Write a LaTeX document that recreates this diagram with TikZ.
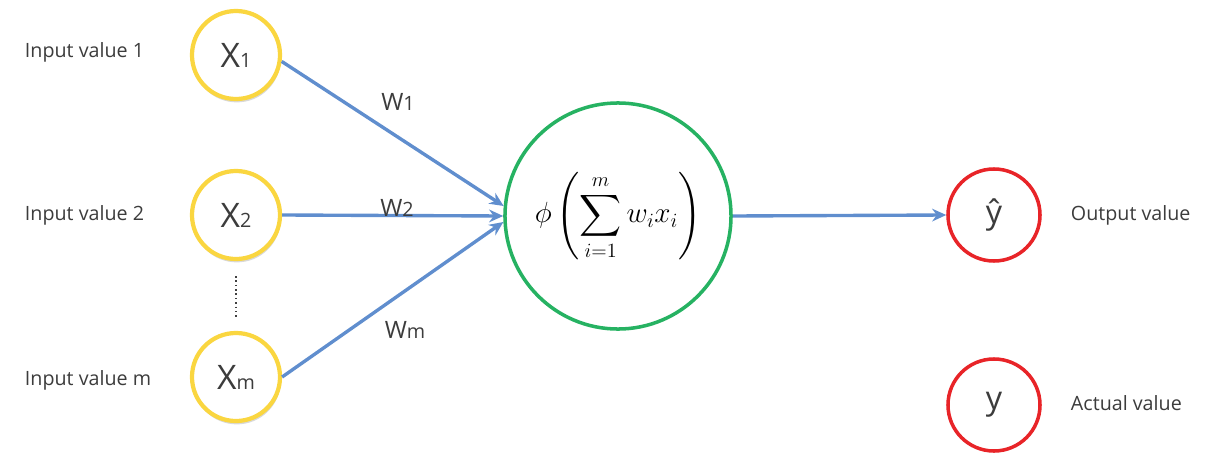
\documentclass[tikz,border=0pt]{standalone}
\usepackage{fontspec}
\setmainfont{Open Sans}
\usepackage{amsmath}
\usepackage{xcolor}
\usetikzlibrary{
  arrows.meta,
  positioning,
  shadows
}
\tikzset{>=stealth}
\definecolor{inyellow}{RGB}{250,214,64}
\definecolor{sumgreen}{RGB}{38,178,98}
\definecolor{outred}{RGB}{232,36,40}
\definecolor{wblue}{RGB}{96,142,206}
\definecolor{txtgray}{RGB}{60,60,60}
\newcommand{\idx}[1]{{\fontsize{14}{14}\selectfont #1}}
\tikzset{
  input/.style={circle, draw=inyellow, line width=3pt, fill=white,
    minimum size=2.2cm, inner sep=0pt, text=txtgray,
    font=\fontsize{24}{26}\selectfont,
    drop shadow={opacity=0.3, shadow xshift=0.6pt, shadow yshift=-2.4pt}},
  neuron/.style={circle, draw=sumgreen, line width=2.5pt, fill=white,
    minimum size=5.65cm, inner sep=0pt},
  output/.style={circle, draw=outred, line width=2.5pt, fill=white,
    minimum size=2.3cm, inner sep=0pt, text=txtgray,
    font=\fontsize{23}{26}\selectfont},
  caption/.style={anchor=west, text=txtgray, font=\fontsize{14}{16}\selectfont},
  weight/.style={text=txtgray, font=\fontsize{17}{18}\selectfont},
  link/.style={draw=wblue, line width=2.4pt, -{Stealth[length=10pt,width=9pt]}}
}
\begin{document}
\begin{tikzpicture}[x=0.025cm, y=-0.025cm]
	\useasboundingbox (0,0) rectangle (1225,467);
	\node[input] (x1) at (236,55) {X\idx{1}};
	\node[input] (x2) at (236,215) {X\idx{2}};
	\node[input] (xm) at (236,377) {X\idx{m}};
	\node[neuron] (sum) at (618,216) {\fontsize{20}{24}\selectfont$\displaystyle \phi\left(\sum_{i=1}^{m} w_i x_i\right)$};
	\node[output] (yhat) at (994,215) {ŷ};
	\node[output] (y) at (994,405) {y};
	\node[caption] (in1) at (20,52) {Input value 1};
	\node[caption] (in2) at (20,215) {Input value 2};
	\node[caption] (inm) at (20,380) {Input value m};
	\node[caption] (outlab) at (1066,215) {Output value};
	\node[caption] (actlab) at (1066,403) {Actual value};
	\coordinate (dtop) at (236,276);
	\coordinate (dbot) at (236,318);
	\draw[black!75, line width=1.1pt, dotted] (dtop) -- (dbot);
	\draw[link] (x1.-8) -- (sum.175);
	\draw[link] (x2.east) -- (sum.west);
	\draw[link] (xm.east) -- (sum.183);
	\draw[link] (sum.east) -- (yhat.west);
	\node[weight] (w1) at (398,102) {W\idx{1}};
	\node[weight] (w2) at (397,208) {W\idx{2}};
	\node[weight] (wm) at (405,330) {W\idx{m}};
\end{tikzpicture}
\end{document}
